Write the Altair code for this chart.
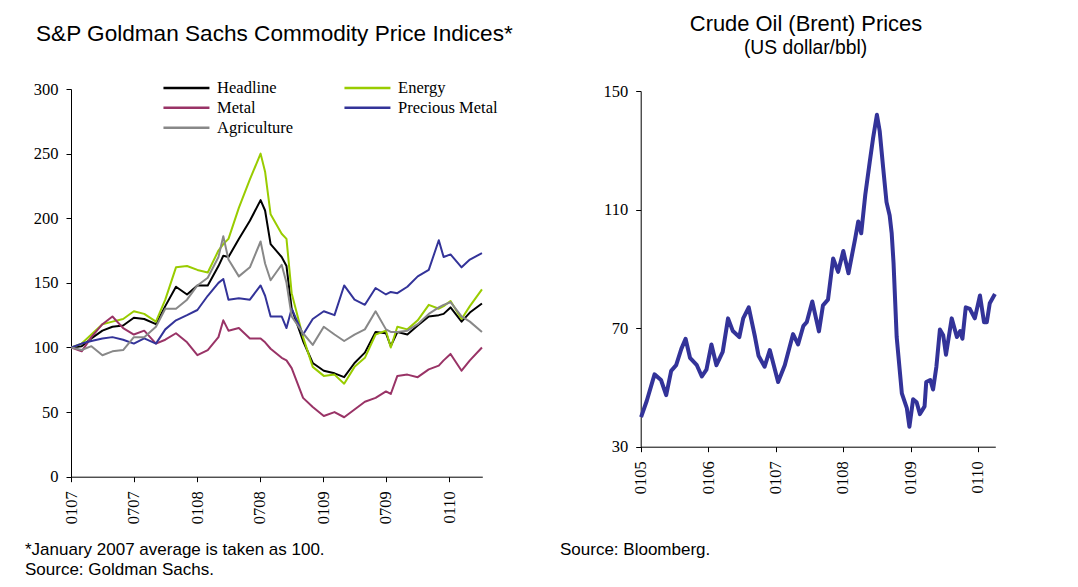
import altair as alt
import pandas as pd

# ---------------- data: S&P GSCI sub-indices (Jan 2007 = 100) ----------------
dates_gs = ["2007-01-02", "2007-02-01", "2007-03-01", "2007-04-02", "2007-05-01", "2007-06-01",
            "2007-07-02", "2007-08-01", "2007-09-04", "2007-10-01", "2007-11-01", "2007-12-03",
            "2008-01-02", "2008-02-01", "2008-03-03", "2008-03-17", "2008-04-01", "2008-05-01",
            "2008-06-02", "2008-07-03", "2008-07-16", "2008-08-01", "2008-09-02", "2008-09-16",
            "2008-10-01", "2008-11-03", "2008-12-01", "2009-01-02", "2009-02-02", "2009-03-02",
            "2009-04-01", "2009-05-01", "2009-06-01", "2009-07-01", "2009-07-15", "2009-08-03",
            "2009-09-01", "2009-10-01", "2009-11-02", "2009-12-01", "2009-12-15", "2010-01-04",
            "2010-02-05", "2010-03-01", "2010-04-05"]
headline = [100, 101, 107, 113, 116, 117, 123, 122, 118, 132, 147, 141, 148, 148, 163, 171, 170, 184,
            198, 214, 206, 180, 170, 163, 130, 105, 88, 82, 80, 77, 88, 96, 112, 111, 101, 112,
            110, 117, 124, 125, 126, 131, 120, 127, 134]
energy = [100, 103, 110, 118, 120, 122, 128, 126, 120, 137, 162, 163, 160, 158, 175, 180, 184, 208,
          230, 250, 236, 203, 188, 184, 142, 108, 85, 78, 79, 72, 85, 92, 110, 113, 100, 116,
          114, 121, 133, 130, 132, 136, 122, 132, 145]
metal = [100, 97, 108, 118, 124, 115, 110, 113, 103, 106, 111, 104, 94, 98, 108, 121, 113, 115,
         107, 107, 104, 99, 92, 90, 84, 61, 54, 47, 50, 46, 52, 58, 61, 66, 64, 78,
         79, 77, 83, 86, 90, 95, 82, 90, 100]
precious = [100, 103, 105, 107, 108, 106, 103, 107, 103, 114, 121, 125, 129, 140, 150, 153, 137, 138,
            137, 148, 140, 124, 124, 115, 130, 110, 122, 128, 125, 148, 137, 133, 146, 141, 143, 142,
            147, 155, 160, 183, 170, 172, 162, 168, 173]
agric = [100, 98, 101, 94, 97, 98, 108, 108, 116, 130, 130, 137, 148, 154, 170, 186, 168, 155,
         162, 182, 165, 152, 164, 150, 124, 111, 102, 116, 110, 105, 110, 114, 128, 114, 112, 112,
         113, 118, 126, 131, 133, 135, 124, 120, 112]

series_names = ["Headline", "Energy", "Metal", "Precious Metal", "Agriculture"]
series_colors = ["#000000", "#99CC00", "#993366", "#333399", "#888888"]
# legend entries are filled column by column: left column first, then right column
legend_order = ["Headline", "Metal", "Agriculture", "Energy", "Precious Metal"]

gs_ticks = ["2007-01-01", "2007-07-01", "2008-01-01", "2008-07-01",
            "2009-01-01", "2009-07-01", "2010-01-01"]
gs_yticks = [0, 50, 100, 150, 200, 250, 300]

# ---------------- data: Brent crude (US$/bbl) ----------------
dates_brent = ["2005-01-03", "2005-02-03", "2005-03-17", "2005-04-21", "2005-05-19", "2005-06-15",
               "2005-07-12", "2005-08-09", "2005-09-01", "2005-09-25", "2005-11-01", "2005-11-28",
               "2005-12-23", "2006-01-19", "2006-02-15", "2006-03-21", "2006-04-19", "2006-05-15",
               "2006-06-19", "2006-07-10", "2006-08-09", "2006-09-12", "2006-10-01", "2006-11-03",
               "2006-12-01", "2007-01-15", "2007-02-20", "2007-04-06", "2007-05-03", "2007-06-01",
               "2007-06-19", "2007-07-19", "2007-08-24", "2007-09-15", "2007-10-12", "2007-11-09",
               "2007-12-06", "2008-01-03", "2008-01-31", "2008-03-06", "2008-03-24", "2008-04-09",
               "2008-05-01", "2008-05-25", "2008-06-12", "2008-07-03", "2008-07-18", "2008-08-06",
               "2008-08-24", "2008-09-10", "2008-09-21", "2008-10-01", "2008-10-18", "2008-11-15",
               "2008-12-12", "2008-12-26", "2009-01-15", "2009-02-03", "2009-02-21", "2009-03-18",
               "2009-03-27", "2009-04-18", "2009-05-03", "2009-05-21", "2009-06-09", "2009-06-27",
               "2009-07-12", "2009-08-12", "2009-09-09", "2009-09-27", "2009-10-09", "2009-10-27",
               "2009-11-18", "2009-12-15", "2010-01-12", "2010-02-03", "2010-02-18", "2010-03-06",
               "2010-04-03"]
brent = [40, 45.5, 54.4, 52.5, 47.4, 55.6,
         57.5, 63, 66.4, 60, 57.5, 53.7,
         56, 64.5, 57.5, 62, 73.3, 69,
         67, 73.3, 77, 67, 60.7, 57,
         62.6, 51.8, 57.5, 68, 64.5, 70.8,
         72, 79, 68.9, 77.7, 79.6, 93.5,
         89, 96, 88.5, 99.8, 106, 102,
         115, 126, 134, 142, 136.5, 124,
         112.5, 108, 102, 92, 67, 48,
         43, 36.7, 46, 45, 41, 43.6,
         51.8, 52.5, 49.3, 57, 69.5, 67.6,
         61, 73.3, 67, 69, 66.4, 77,
         76.5, 73.3, 81, 72, 72, 78.4,
         81.5]
brent_ticks = ["2005-01-01", "2006-01-01", "2007-01-01", "2008-01-01", "2009-01-01", "2010-01-01"]
brent_yticks = [30, 70, 110, 150]

# ---------------- tables ----------------
gs_df = pd.DataFrame({"date": dates_gs, "Headline": headline, "Energy": energy, "Metal": metal,
                      "Precious Metal": precious, "Agriculture": agric})
gs_long = gs_df.melt("date", var_name="series", value_name="value")
gs_long["ord"] = gs_long["series"].map({n: i for i, n in enumerate(series_names)})
brent_df = pd.DataFrame({"date": dates_brent, "price": brent})


def dt(s):
    y, m, d = (int(v) for v in s.split("-"))
    return alt.DateTime(year=y, month=m, date=d)


W, H = 1062, 571
SERIF = "Liberation Serif"
SANS = "Liberation Sans"
AX = dict(domainColor="#000000", tickColor="#000000", tickSize=5, domainWidth=1, tickWidth=1,
          labelFont=SERIF, labelFontSize=16.5, labelColor="#000000", grid=False, title=None)

# plot-area pixel frames (inside the chart canvas)
L_X0, L_X1, L_Y0, L_Y1 = 63, 474.3, 468.7, 81
R_X0, R_X1, R_Y0, R_Y1 = 632.7, 987.3, 438.7, 83

left = alt.Chart(gs_long).mark_line(strokeWidth=2, strokeJoin="round").encode(
    x=alt.X("date:T",
            scale=alt.Scale(domain=[dt("2007-01-01"), dt("2010-04-06")], range=[L_X0, L_X1]),
            axis=alt.Axis(orient="bottom", offset=L_Y0 - H, values=[dt(s) for s in gs_ticks],
                          format="%m%y", labelAngle=270, labelPadding=9, **AX)),
    y=alt.Y("value:Q",
            scale=alt.Scale(domain=[0, 300], range=[L_Y0, L_Y1], nice=False, zero=False),
            axis=alt.Axis(orient="left", offset=-L_X0, values=gs_yticks, labelPadding=8, **AX)),
    color=alt.Color("series:N",
                    scale=alt.Scale(domain=series_names, range=series_colors),
                    legend=alt.Legend(title=None, orient="none", legendX=170.2, legendY=71.5,
                                      columns=2, values=legend_order,
                                      symbolType="M-5,0H5", symbolSize=84.6,
                                      symbolStrokeWidth=2.5, labelOffset=22.4, columnPadding=46,
                                      rowPadding=3, labelFont=SERIF, labelFontSize=16.5,
                                      labelColor="#000000", padding=0)),
    order=alt.Order("ord:Q"),
)

right = alt.Chart(brent_df).mark_line(strokeWidth=4, color="#333399", strokeJoin="round").encode(
    x=alt.X("date:T",
            scale=alt.Scale(domain=[dt("2005-01-01"), dt("2010-04-05")], range=[R_X0, R_X1]),
            axis=alt.Axis(orient="bottom", offset=R_Y0 - H, values=[dt(s) for s in brent_ticks],
                          format="%m%y", labelAngle=270, labelPadding=9, **AX)),
    y=alt.Y("price:Q",
            scale=alt.Scale(domain=[30, 150], range=[R_Y0, R_Y1], nice=False, zero=False),
            axis=alt.Axis(orient="left", offset=-R_X0, values=brent_yticks, labelPadding=8, **AX)),
)


def note(text, x, y, size, align="left"):
    return alt.Chart(pd.DataFrame({"t": [text]})).mark_text(
        align=align, baseline="alphabetic", font=SANS, fontSize=size, color="#000000"
    ).encode(text="t:N", x=alt.value(x), y=alt.value(y))


texts = [
    note("S&P Goldman Sachs Commodity Price Indices*", 28, 33, 22.6),
    note("Crude Oil (Brent) Prices", 798, 23, 21.9, "center"),
    note("(US dollar/bbl)", 797.5, 45.5, 19.3, "center"),
    note("*January 2007 average is taken as 100.", 17, 547, 17),
    note("Source: Goldman Sachs.", 17, 566.5, 17),
    note("Source: Bloomberg.", 552, 547, 17),
]

chart = alt.layer(left, right, *texts).resolve_scale(
    x="independent", y="independent"
).resolve_axis(
    x="independent", y="independent"
).properties(
    width=W, height=H, padding=0, autosize=alt.AutoSizeParams(type="none"), background="#ffffff"
).configure_view(strokeWidth=0)

chart.save("out.html", embed_options={"renderer": "svg", "actions": False})
